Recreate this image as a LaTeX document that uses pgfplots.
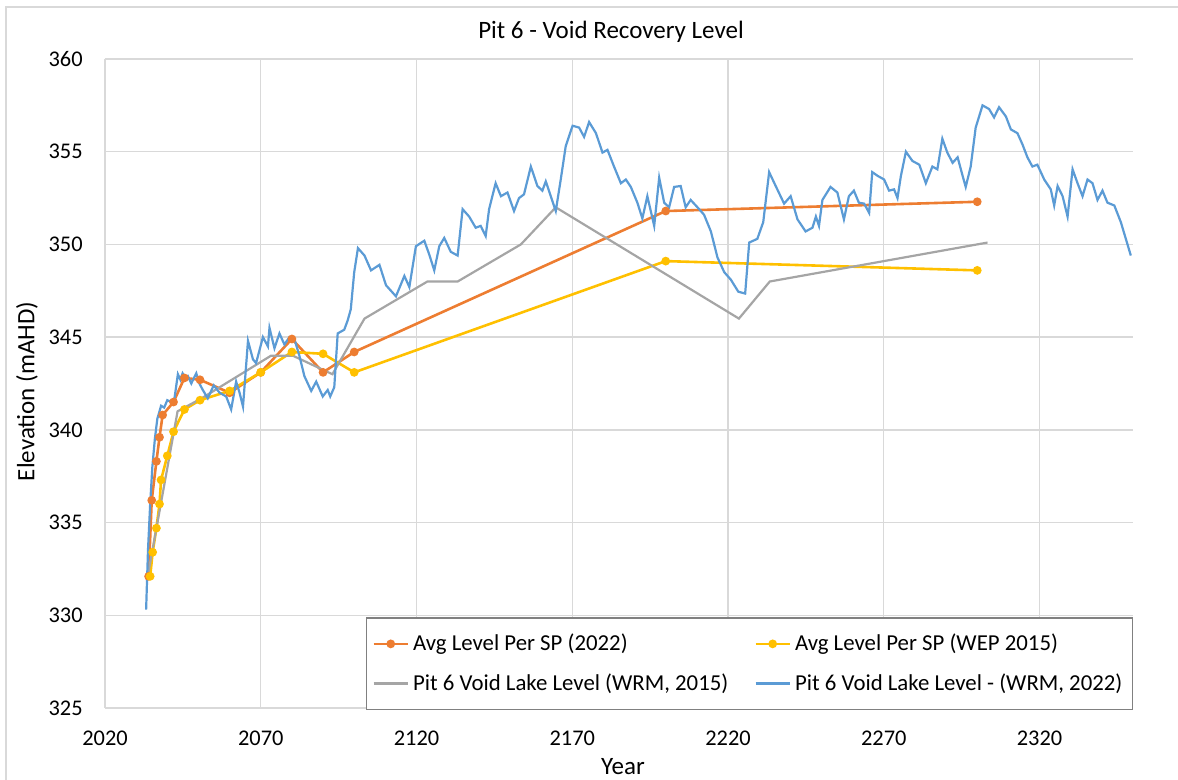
\documentclass[border=0pt]{standalone}
\usepackage{fontspec}
\setmainfont{Carlito}
\usepackage{pgfplots}
\pgfplotsset{compat=1.18}
\usetikzlibrary{calc}

\definecolor{xorange}{HTML}{ED7D31}
\definecolor{xyellow}{HTML}{FFC000}
\definecolor{xgray}{HTML}{A5A5A5}
\definecolor{xblue}{HTML}{5B9BD5}
\definecolor{gridgray}{HTML}{D9D9D9}
\definecolor{legframe}{HTML}{808080}

\begin{document}
\begin{tikzpicture}
\begin{axis}[name=ax, at={(0,0)}, anchor=south west,
  scale only axis, width=514pt, height=324.5pt,
  xmin=2020, xmax=2350, ymin=325, ymax=360,
  xtick={2020,2070,...,2320}, ytick={325,330,...,360},
  grid=major, major grid style={draw=gridgray, line width=0.7pt},
  axis line style={draw=none}, major tick length=0pt,
  tick label style={font=\fontsize{11.2}{13}\selectfont},
  /pgf/number format/assume math mode=true,
  /pgf/number format/1000 sep={}, scaled ticks=false,
  xticklabel style={anchor=center, yshift=-15pt},
  yticklabel style={anchor=east, inner sep=0pt, xshift=-11pt},
  legend columns=2, legend cell align=left,
  legend style={at={(1,0)}, anchor=south east, yshift=-1pt,
    draw=legframe, line width=0.6pt, fill=white,
    font=\fontsize{11.4}{13}\selectfont, row sep=6pt,
    inner xsep=3pt, inner ysep=6pt,
    /tikz/every even column/.append style={column sep=11pt}},
]
\addplot[xorange, line width=1.3pt, mark=*, mark size=1.5pt] coordinates {
(2034,332.1) (2035,336.2) (2036.5,338.3) (2037.5,339.6) (2038.5,340.8)
(2042,341.5) (2045.5,342.8) (2050.5,342.7) (2060,342.0) (2070,343.1)
(2080,344.9) (2090,343.1) (2100,344.2) (2200,351.8) (2300,352.3)};
\addlegendentry{Avg Level Per SP (2022)}
\addplot[xyellow, line width=1.3pt, mark=*, mark size=1.5pt] coordinates {
(2034.5,332.1) (2035.3,333.4) (2036.5,334.7) (2037.5,336.0) (2038,337.3)
(2040,338.6) (2042,339.9) (2045.5,341.1) (2050.5,341.6) (2060,342.1)
(2070,343.1) (2080,344.2) (2090,344.1) (2100,343.1) (2200,349.1) (2300,348.6)};
\addlegendentry{Avg Level Per SP (WEP 2015)}
\addplot[xgray, line width=1.1pt] coordinates {
(2033.5,331.9) (2043.3,341.0) (2051,341.7) (2073.3,344.0) (2080.3,344.0)
(2093,343.0) (2103.3,346.0) (2123.5,348.0) (2133.2,348.0) (2153.5,350.0)
(2164.7,352.0) (2223.5,346.0) (2233.4,348.0) (2303.3,350.1)};
\addlegendentry{Pit 6 Void Lake Level (WRM, 2015)}
\addplot[xblue, line width=1.1pt] coordinates {
(2033.2,330.3) (2033.8,333.5) (2034.5,336.0) (2035.2,338.0) (2036.0,339.5)
(2036.8,340.6) (2037.5,341.0) (2038.0,341.3) (2039.0,341.2) (2040.0,341.6)
(2041.3,341.5) (2042.3,341.7) (2043.4,343.0) (2044.2,342.7) (2044.9,343.05)
(2045.8,342.8) (2046.6,342.9) (2047.7,342.5) (2049.3,343.05) (2050.3,342.5)
(2051.4,342.15) (2053.0,341.7) (2054.9,342.4) (2056.8,342.0) (2058.9,341.8)
(2060.5,341.1) (2062.1,342.6) (2063.2,342.0) (2064.3,341.25) (2065.9,344.8)
(2067.5,343.8) (2068.5,343.6) (2070.7,345.0) (2072.3,344.5) (2072.8,345.5)
(2074.4,344.4) (2076.0,345.2) (2077.6,344.6) (2079.2,345.0) (2080.8,344.9)
(2082.4,344.0) (2084.0,342.9) (2086.2,342.1) (2087.8,342.6) (2089.9,341.8)
(2091.5,342.15) (2092.3,341.8) (2093.6,342.3) (2094.7,345.2) (2096.8,345.4)
(2097.9,345.9) (2098.9,346.5) (2100.0,348.5) (2101.2,349.8) (2103.3,349.4)
(2105.4,348.6) (2108.1,348.9) (2110.2,347.8) (2113.4,347.2) (2116.1,348.3)
(2117.7,347.7) (2119.8,349.9) (2122.5,350.2) (2124.1,349.45) (2125.7,348.6)
(2127.3,349.9) (2128.9,350.35) (2131.0,349.6) (2133.2,349.4) (2134.8,351.9)
(2136.9,351.5) (2139.0,350.9) (2140.6,351.0) (2142.2,350.45) (2143.3,351.9)
(2145.4,353.3) (2147.1,352.6) (2149.2,352.8) (2151.3,351.8) (2152.9,352.5)
(2154.5,352.7) (2156.7,354.2) (2158.8,353.15) (2160.4,352.9) (2161.5,353.4)
(2163.1,352.6) (2164.7,351.8) (2166.3,353.5) (2167.9,355.3) (2170.1,356.4)
(2172.2,356.3) (2173.8,355.8) (2175.4,356.6) (2177.6,356.0) (2179.7,354.95)
(2181.3,355.1) (2183.4,354.2) (2185.6,353.3) (2187.2,353.5) (2188.8,353.1)
(2190.9,352.25) (2192.5,351.4) (2194.1,352.6) (2196.3,351.0) (2197.9,353.6)
(2199.5,352.25) (2201.1,352.0) (2202.7,353.1) (2204.8,353.15) (2206.4,352.0)
(2208.0,352.4) (2210.2,352.0) (2212.3,351.6) (2214.5,350.7) (2216.6,349.3)
(2218.8,348.5) (2220.9,348.1) (2223.3,347.45) (2225.5,347.35) (2226.8,350.1)
(2229.4,350.3) (2231.3,351.2) (2233.2,353.9) (2235.3,353.15) (2238.0,352.2)
(2240.1,352.6) (2242.3,351.35) (2244.9,350.7) (2247.1,350.9) (2248.2,351.5)
(2249.2,351.0) (2250.3,352.4) (2252.9,353.1) (2255.1,352.8) (2257.2,351.35)
(2258.8,352.6) (2260.4,352.9) (2262.0,352.25) (2263.7,352.2) (2265.3,351.7)
(2266.3,353.9) (2268.0,353.7) (2270.1,353.5) (2271.7,352.9) (2273.3,352.97)
(2274.4,352.5) (2275.5,353.7) (2277.1,355.0) (2279.2,354.5) (2281.4,354.3)
(2283.5,353.3) (2285.6,354.2) (2287.2,354.05) (2288.8,355.7) (2290.4,354.95)
(2292.1,354.4) (2293.7,354.7) (2295.3,353.7) (2296.3,353.1) (2297.9,354.2)
(2299.5,356.3) (2301.7,357.5) (2303.8,357.3) (2305.4,356.85) (2307.0,357.4)
(2309.2,356.9) (2310.8,356.2) (2312.9,356.0) (2314.5,355.4) (2316.1,354.7)
(2317.7,354.2) (2319.3,354.3) (2321.5,353.5) (2323.6,352.97) (2324.7,352.1)
(2325.8,353.15) (2327.4,352.6) (2329.0,351.5) (2330.6,354.05) (2332.2,353.3)
(2333.8,352.6) (2335.4,353.5) (2337.0,353.3) (2338.6,352.4) (2340.2,352.9)
(2341.8,352.25) (2344.0,352.1) (2346.1,351.2) (2347.7,350.3) (2349.3,349.4)};
\addlegendentry{Pit 6 Void Lake Level - (WRM, 2022)}
\end{axis}

% title and axis titles
\node[font=\fontsize{12.5}{15}\selectfont] at ($(ax.north west)+(253pt,13.8pt)$) {Pit 6 - Void Recovery Level};
\node[font=\fontsize{12.5}{15}\selectfont, rotate=90] at ($(ax.west)+(-39pt,-4pt)$) {Elevation (mAHD)};
\node[font=\fontsize{12.5}{15}\selectfont] at ($(ax.south)+(2pt,-29.5pt)$) {Year};

% chart area border (left and top edges visible)
\draw[gridgray, line width=0.6pt] ($(ax.south west)+(-49.5pt,-36pt)$) -- ($(ax.north west)+(-49.5pt,26pt)$) -- ($(ax.north east)+(22.5pt,26pt)$);

\pgfresetboundingbox
\path ($(ax.south west)+(-52.5pt,-36pt)$) rectangle ($(ax.north east)+(22.5pt,29.5pt)$);
\end{tikzpicture}
\end{document}
